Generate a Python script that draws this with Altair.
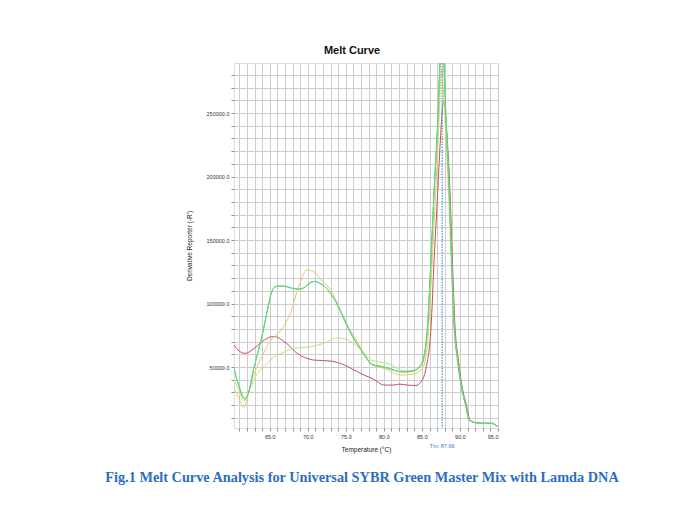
import altair as alt
import pandas as pd

# ---- data ----
red_t = [60.3, 61.0, 61.8, 62.8, 64.0, 65.3, 65.6, 67.2, 68.6, 69.9, 70.8, 73.0, 74.8, 76.1, 77.4, 78.7, 80.0,
         81.3, 82.0, 83.1, 84.2, 84.9, 85.5, 86.2, 86.6, 87.07, 87.4, 87.85, 88.3, 88.7, 89.0, 89.35, 89.8,
         90.2, 90.9, 91.3, 92.0, 92.8, 94.1, 95.0]
red_v = [67300, 62500, 60800, 64000, 70000, 73900, 73900, 68700, 60800, 56800, 55500, 54700, 51600, 47600,
         43700, 40300, 35800, 35800, 36600, 35800, 35500, 38400, 48000, 81700, 134000, 186800, 226000,
         259000, 232000, 186800, 134000, 81700, 55500, 37400, 18700, 8300, 6300, 5700, 5700, 3000]

yel_t = [60.3, 60.9, 61.6, 62.4, 63.3, 64.2, 65.0, 66.4, 67.7, 68.8, 69.9, 70.8, 71.6, 73.0, 74.3, 75.2,
         76.5, 78.3, 80.0, 82.2, 84.0, 84.6, 85.2, 85.9, 86.35, 86.8, 87.2, 87.55, 88.0, 88.4, 88.75,
         89.1, 89.6, 90.1, 90.8, 91.2, 92.0, 92.8, 94.1, 95.0]
yel_v = [33000, 26000, 18300, 34500, 50000, 61000, 70000, 78500, 92300, 113200, 126400, 125000, 119800,
         110600, 94900, 83100, 69900, 52900, 49000, 43700, 44500, 46500, 50300, 81700, 134000, 186800,
         239000, 284000, 250000, 200000, 150000, 95000, 57000, 37400, 18700, 8300, 6200, 5700, 5700, 3000]

lime_t = [60.3, 61.0, 61.6, 62.4, 63.4, 64.5, 65.6, 66.8, 68.2, 70.4, 72.1, 73.9, 75.7, 77.4, 78.3, 80.5,
          82.7, 84.0, 84.6, 85.1, 85.75, 86.2, 86.6, 87.07, 87.4, 87.6, 87.85, 88.2, 88.6, 88.9, 89.25,
          89.7, 90.1, 90.8, 91.2, 92.0, 92.8, 94.1, 95.0]
lime_v = [40000, 31000, 22700, 33000, 45000, 52000, 58100, 61500, 64700, 66000, 68700, 73100, 69900,
          60800, 55500, 52900, 47100, 47600, 50000, 52900, 81700, 134000, 186800, 239000, 285000, 298000,
          285000, 239000, 186800, 134000, 81700, 55500, 37400, 18700, 8300, 6200, 5700, 5700, 3000]

teal_t = [60.3, 61.0, 61.7, 62.3, 62.75, 63.4, 64.0, 64.7, 65.3, 65.8, 66.4, 67.2, 68.0, 68.8, 69.5,
          70.3, 70.9, 71.6, 72.3, 73.0, 73.8, 74.5, 75.2, 76.0, 77.0, 77.8, 78.5, 79.6, 80.5, 81.5, 82.5,
          83.5, 84.2, 84.7, 85.1, 85.75, 86.2, 86.6, 87.07, 87.4, 87.62, 87.85, 88.2, 88.6, 88.9, 89.25,
          89.7, 90.1, 90.8, 91.2, 92.0, 92.8, 94.1, 95.0]
teal_v = [49000, 34500, 25400, 31900, 45000, 60800, 75000, 95000, 110000, 113500, 114000, 113500, 112000,
          111500, 112500, 116500, 117500, 116000, 113000, 108000, 100000, 91000, 81700, 72500, 63400,
          56000, 51500, 50300, 49000, 47000, 46000, 46300, 47500, 50000, 54000, 81700, 134000, 186800,
          239000, 291700, 305000, 292000, 239000, 186800, 134000, 81700, 55500, 37400, 18700, 8300,
          6200, 5700, 5700, 3000]

green_t = teal_t
green_v = [48500, 34000, 24800, 31500, 44700, 60500, 74800, 94800, 109800, 113300, 113800, 113300, 111800,
           111300, 112300, 116300, 117300, 115800, 112800, 107800, 100200, 91300, 82200, 72800, 63600,
           56300, 51800, 50600, 49300, 47300, 46300, 46600, 47800, 50300, 55000, 84000, 137000, 190000,
           243000, 295000, 310000, 296000, 242000, 188000, 135000, 82500, 56000, 37800, 19000, 8500,
           6300, 5800, 5700, 3000]

series = [
    ("Red", red_t, red_v, "#c4505c"),
    ("Yellow", yel_t, yel_v, "#ecc766"),
    ("Lime", lime_t, lime_v, "#bde27a"),
    ("Green", green_t, green_v, "#4cc84c"),
    ("Teal", teal_t, teal_v, "#62da94"),
]

x_grid = list(range(61, 96))
y_grid = list(range(10000, 290000, 10000))
tm_value = 87.66

FONT = "Liberation Sans"

x_axis = alt.Axis(values=x_grid, labelExpr="datum.value % 5 == 0 ? format(datum.value, '.1f') : ''",
                  grid=True, gridColor="#cdcdcd", gridWidth=1, domain=False, tickColor="#909090",
                  tickSize=3, labelFont=FONT, labelFontSize=5.5, labelColor="#333333", labelPadding=3,
                  title="Temperature (°C)", titleFont=FONT, titleFontSize=6.5, titleFontWeight="normal",
                  titleColor="#222222", titlePadding=7)
y_axis = alt.Axis(values=y_grid, labelExpr="datum.value % 50000 == 0 ? format(datum.value, '.1f') : ''",
                  grid=True, gridColor="#cdcdcd", gridWidth=1, domain=False, tickColor="#909090",
                  tickSize=3, labelFont=FONT, labelFontSize=5.5, labelColor="#333333", labelPadding=2,
                  title="Derivative Reporter (-R')", titleFont=FONT, titleFontSize=6.5,
                  titleFontWeight="normal", titleColor="#222222", titlePadding=14)

x_scale = alt.Scale(domain=[60.3, 95], nice=False, zero=False)
y_scale = alt.Scale(domain=[2000, 289400], nice=False, zero=False)


def X():
    return alt.X("T:Q", scale=x_scale, axis=x_axis)


def Y():
    return alt.Y("V:Q", scale=y_scale, axis=y_axis)


layers = []
for name, ts, vs, col in series:
    df = pd.DataFrame({"T": ts, "V": vs})
    layers.append(
        alt.Chart(df).mark_line(interpolate="monotone", strokeWidth=1.0, clip=True, color=col)
        .encode(x=X(), y=Y())
    )

tm_df = pd.DataFrame({"T": [tm_value], "label": ["Tm: 87.66"]})
tm_rule = alt.Chart(tm_df).mark_rule(color="#5b9bd0", strokeWidth=1.3, strokeDash=[1.5, 1.2]).encode(
    x=alt.X("T:Q", scale=x_scale, axis=x_axis))
tm_text = alt.Chart(tm_df).mark_text(font=FONT, fontSize=5.5, color="#3a78b8", baseline="middle").encode(
    x=alt.X("T:Q", scale=x_scale, axis=x_axis), y=alt.value(383), text="label:N")

one = pd.DataFrame({"a": [1]})
title = alt.Chart(one).mark_text(text="Melt Curve", font=FONT, fontSize=11, fontWeight="bold",
                                 color="#111111", baseline="middle").encode(
    x=alt.value(118), y=alt.value(-12))
caption = alt.Chart(one).mark_text(
    text="Fig.1 Melt Curve Analysis for Universal SYBR Green Master Mix with Lamda DNA",
    font="Liberation Serif", fontSize=14.3, fontWeight="bold", color="#2a6fc0",
    baseline="middle").encode(x=alt.value(128), y=alt.value(415))

chart = alt.layer(*layers, tm_rule, tm_text, title, caption).properties(
    width=264, height=365,
    autosize=alt.AutoSizeParams(type="none"),
    padding={"left": 226, "top": 55, "right": 189, "bottom": 69},
).configure_view(stroke="#7a7a7a", strokeWidth=1.2).configure(background="white")

chart.save("out.html", embed_options={"renderer": "svg", "actions": False})
